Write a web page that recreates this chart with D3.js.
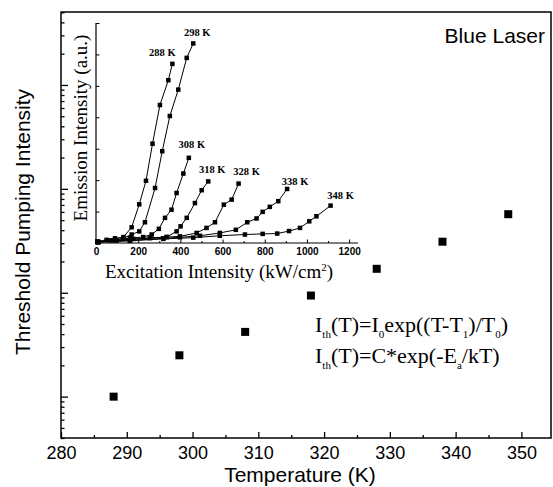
<!DOCTYPE html>
<html>
<meta charset="utf-8">
<style>
body { margin: 0; background: #fff; }
svg { display: block; }
.sans { font-family: "Liberation Sans", Arial, sans-serif; }
.serif { font-family: "Liberation Serif", "Times New Roman", serif; }
</style>
<head>
<script src="https://cdnjs.cloudflare.com/ajax/libs/d3/7.8.5/d3.min.js"></script>
</head>
<body>
<script>
// main plot: threshold vs temperature (arbitrary units, log axis)
var temps = [288, 298, 308, 318, 328, 338, 348];
var threshold = [1.0, 2.5, 4.2, 9.4, 17, 31, 57];
var tempTicks = [280, 290, 300, 310, 320, 330, 340, 350];

// inset: emission vs excitation for each temperature
var insetLabels = ["288 K", "298 K", "308 K", "318 K", "328 K", "338 K", "348 K"];
var exc288 = [6, 50, 90, 130, 169, 205, 237, 268, 303, 343, 362];
var em288  = [0.05, 0.10, 0.15, 0.19, 0.50, 1.23, 1.98, 3.16, 4.39, 5.18, 5.70];
var exc298 = [6, 66, 130, 169, 205, 232, 280, 314, 350, 390, 430, 461];
var em298  = [0.03, 0.08, 0.15, 0.27, 0.37, 0.66, 1.75, 2.92, 4.04, 4.88, 5.89, 6.35];
var exc308 = [6, 82, 161, 224, 264, 298, 327, 358, 382, 414, 440];
var em308  = [0.03, 0.08, 0.16, 0.19, 0.27, 0.45, 0.80, 1.06, 1.59, 2.21, 2.71];
var exc318 = [11, 98, 177, 256, 335, 382, 401, 430, 469, 501, 532];
var em318  = [0.03, 0.08, 0.13, 0.16, 0.19, 0.37, 0.53, 0.80, 1.27, 1.68, 1.96];
var exc328 = [11, 161, 256, 335, 398, 477, 524, 564, 606, 643, 676];
var em328  = [0.03, 0.10, 0.16, 0.19, 0.21, 0.32, 0.48, 0.66, 1.22, 1.38, 1.89];
var exc338 = [11, 161, 319, 398, 493, 587, 663, 717, 761, 790, 824, 864, 906];
var em338  = [0.03, 0.08, 0.15, 0.18, 0.23, 0.32, 0.42, 0.66, 0.78, 0.99, 1.15, 1.33, 1.72];
var exc348 = [11, 161, 319, 461, 587, 706, 790, 859, 915, 967, 1011, 1045, 1112];
var em348  = [0.03, 0.07, 0.13, 0.17, 0.23, 0.27, 0.29, 0.30, 0.38, 0.48, 0.69, 0.85, 1.19];
var excTicks = [0, 200, 400, 600, 800, 1000, 1200];

(function () {
  var W = 553, H = 487;
  var svg = d3.select("body").append("svg").attr("width", W).attr("height", H);

  var left = 61, right = 551, top = 12, bottom = 438;

  var x = d3.scaleLinear().domain([280, 354.5]).range([left, right]);
  var y = d3.scaleLog().domain([0.40, 5035]).range([bottom, top]);

  // frame
  svg.append("rect")
    .attr("x", left).attr("y", top)
    .attr("width", right - left).attr("height", bottom - top)
    .attr("fill", "none").attr("stroke", "#000").attr("stroke-width", 1.5);

  // x axis, ticks inward
  var xMinor = d3.range(285, 355, 10);
  var gx = svg.append("g").attr("transform", "translate(0," + bottom + ")");
  gx.call(d3.axisBottom(x).tickValues(tempTicks).tickSize(-6).tickPadding(8).tickFormat(d3.format("d")));
  gx.append("g").call(d3.axisBottom(x).tickValues(xMinor).tickSize(-3).tickFormat(""));
  gx.selectAll(".domain").remove();
  gx.selectAll("line").attr("stroke-width", 1.3);
  gx.selectAll("text").attr("class", "sans").attr("font-size", 18).attr("fill", "#000");

  // y axis (log), no labels
  var yMajor = [1, 10, 100, 1000];
  var yMinor = [];
  [0.1, 1, 10, 100, 1000].forEach(function (dec) {
    for (var k = 2; k <= 9; k++) {
      var v = dec * k;
      if (v >= 0.40 && v <= 5035) yMinor.push(v);
    }
  });
  var gy = svg.append("g").attr("transform", "translate(" + left + ",0)");
  gy.call(d3.axisLeft(y).tickValues(yMajor).tickSize(-7).tickFormat(""));
  gy.append("g").call(d3.axisLeft(y).tickValues(yMinor).tickSize(-3.5).tickFormat(""));
  gy.selectAll(".domain").remove();
  gy.selectAll("line").attr("stroke-width", 1.3);

  // main data
  var s = 8;
  svg.append("g").selectAll("rect")
    .data(temps)
    .enter().append("rect")
    .attr("x", function (d) { return x(d) - s / 2; })
    .attr("y", function (d, i) { return y(threshold[i]) - s / 2; })
    .attr("width", s).attr("height", s)
    .attr("fill", "#000");

  // titles
  svg.append("text").attr("class", "sans")
    .attr("x", 300).attr("y", 482)
    .attr("text-anchor", "middle").attr("font-size", 21)
    .text("Temperature (K)");
  svg.append("text").attr("class", "sans")
    .attr("transform", "translate(30,222) rotate(-90)")
    .attr("text-anchor", "middle").attr("font-size", 21)
    .text("Threshold Pumping Intensity");
  svg.append("text").attr("class", "sans")
    .attr("x", 545).attr("y", 43)
    .attr("text-anchor", "end").attr("font-size", 21)
    .text("Blue Laser");

  // equations, subscripts as tspans
  var eq1 = svg.append("text").attr("class", "serif").attr("x", 315).attr("y", 332).attr("font-size", 22);
  var eq2 = svg.append("text").attr("class", "serif").attr("x", 315).attr("y", 363).attr("font-size", 22);
  function seq(t, parts) {
    var prevSub = false;
    parts.forEach(function (p) {
      var ts = t.append("tspan").text(p[0]);
      if (p[1]) { ts.attr("font-size", 11).attr("dy", prevSub ? 0 : 6); }
      else if (prevSub) { ts.attr("dy", -6); }
      prevSub = !!p[1];
    });
  }
  seq(eq1, [["I"], ["th", 1], ["(T)=I"], ["0", 1], ["exp((T-T"], ["1", 1], [")/T"], ["0", 1], [")"]]);
  seq(eq2, [["I"], ["th", 1], ["(T)=C*exp(-E"], ["a", 1], ["/kT)"]]);

  // inset
  var ix = d3.scaleLinear().domain([0, 1242]).range([96, 358]);
  var iy = d3.scaleLinear().domain([0, 7]).range([243, 23]);
  var inset = svg.append("g");

  inset.append("line").attr("x1", 96).attr("x2", 96).attr("y1", iy(7)).attr("y2", iy(0))
    .attr("stroke", "#000").attr("stroke-width", 1.2);
  inset.append("line").attr("x1", 96).attr("x2", ix(1242)).attr("y1", iy(0)).attr("y2", iy(0))
    .attr("stroke", "#000").attr("stroke-width", 1.2);

  var igx = inset.append("g").attr("transform", "translate(0," + iy(0) + ")");
  igx.call(d3.axisBottom(ix).tickValues(excTicks).tickSize(-3.5).tickPadding(5).tickFormat(d3.format("d")));
  igx.append("g").call(d3.axisBottom(ix).tickValues(d3.range(100, 1300, 200)).tickSize(-2).tickFormat(""));
  igx.selectAll(".domain").remove();
  igx.selectAll("text").attr("class", "sans").attr("font-size", 10).attr("font-weight", "bold").attr("fill", "#000");

  var igy = inset.append("g").attr("transform", "translate(96,0)");
  igy.call(d3.axisLeft(iy).tickValues([1, 2, 3, 4, 5, 6, 7]).tickSize(-3.5).tickFormat(""));
  igy.selectAll(".domain").remove();

  inset.append("text").attr("class", "serif")
    .attr("x", 219).attr("y", 278)
    .attr("text-anchor", "middle").attr("font-size", 19)
    .html('Excitation Intensity (kW/cm<tspan dy="-7" font-size="11">2</tspan><tspan dy="7">)</tspan>');
  inset.append("text").attr("class", "serif")
    .attr("transform", "translate(87,128) rotate(-90)")
    .attr("text-anchor", "middle").attr("font-size", 19)
    .text("Emission Intensity (a.u.)");

  var series = [[exc288, em288], [exc298, em298], [exc308, em308], [exc318, em318],
                [exc328, em328], [exc338, em338], [exc348, em348]];
  var labelOff = [[-10, -11], [4, -11], [3, -13], [4, -12], [8, -12], [8, -7], [10, -10]];
  var line = d3.line().x(function (d) { return ix(d[0]); }).y(function (d) { return iy(d[1]); });
  var ms = 4.5;

  series.forEach(function (sr, k) {
    var pts = sr[0].map(function (v, i) { return [v, sr[1][i]]; });
    inset.append("path").datum(pts).attr("d", line)
      .attr("fill", "none").attr("stroke", "#000").attr("stroke-width", 1);
    inset.append("g").selectAll("rect").data(pts).enter().append("rect")
      .attr("x", function (d) { return ix(d[0]) - ms / 2; })
      .attr("y", function (d) { return iy(d[1]) - ms / 2; })
      .attr("width", ms).attr("height", ms).attr("fill", "#000");
    var last = pts[pts.length - 1];
    inset.append("text").attr("class", "serif")
      .attr("x", ix(last[0]) + labelOff[k][0])
      .attr("y", iy(last[1]) + labelOff[k][1] + 3.5)
      .attr("text-anchor", "middle").attr("font-size", 10.5).attr("font-weight", "bold")
      .text(insetLabels[k]);
  });
})();
</script>
</body>
</html>
